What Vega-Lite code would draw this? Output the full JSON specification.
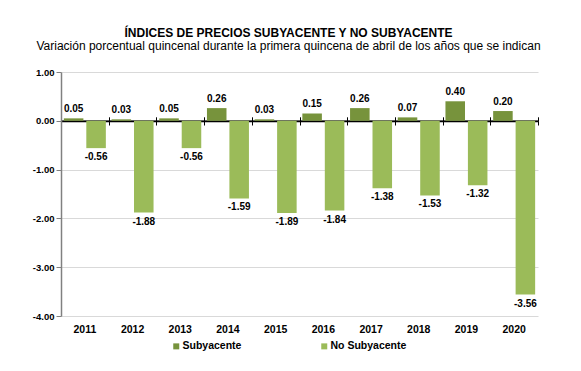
{
  "$schema": "https://vega.github.io/schema/vega-lite/v6.json",
  "autosize": {"type": "none"},
  "width": 477,
  "height": 244,
  "padding": {"left": 61, "top": 72, "right": 43, "bottom": 55},
  "background": "white",
  "title": {
    "text": "ÍNDICES DE PRECIOS SUBYACENTE Y NO SUBYACENTE",
    "subtitle": "Variación porcentual quincenal durante la primera quincena de abril de los años que se indican",
    "anchor": "middle",
    "dx": -11,
    "offset": 14,
    "fontSize": 12,
    "fontWeight": "bold",
    "font": "Liberation Sans",
    "color": "black",
    "subtitleFont": "Liberation Sans",
    "subtitleFontSize": 12,
    "subtitleColor": "black",
    "subtitlePadding": 1
  },
  "config": {
    "font": "Liberation Sans",
    "view": {"stroke": null},
    "locale": {
      "number": {"decimal": ".", "thousands": ",", "grouping": [3], "currency": ["$", ""], "minus": "-"}
    }
  },
  "data": {
    "values": [
      {"year": "2011", "series": "Subyacente", "value": 0.05},
      {"year": "2011", "series": "No Subyacente", "value": -0.56},
      {"year": "2012", "series": "Subyacente", "value": 0.03},
      {"year": "2012", "series": "No Subyacente", "value": -1.88},
      {"year": "2013", "series": "Subyacente", "value": 0.05},
      {"year": "2013", "series": "No Subyacente", "value": -0.56},
      {"year": "2014", "series": "Subyacente", "value": 0.26},
      {"year": "2014", "series": "No Subyacente", "value": -1.59},
      {"year": "2015", "series": "Subyacente", "value": 0.03},
      {"year": "2015", "series": "No Subyacente", "value": -1.89},
      {"year": "2016", "series": "Subyacente", "value": 0.15},
      {"year": "2016", "series": "No Subyacente", "value": -1.84},
      {"year": "2017", "series": "Subyacente", "value": 0.26},
      {"year": "2017", "series": "No Subyacente", "value": -1.38},
      {"year": "2018", "series": "Subyacente", "value": 0.07},
      {"year": "2018", "series": "No Subyacente", "value": -1.53},
      {"year": "2019", "series": "Subyacente", "value": 0.40},
      {"year": "2019", "series": "No Subyacente", "value": -1.32},
      {"year": "2020", "series": "Subyacente", "value": 0.20},
      {"year": "2020", "series": "No Subyacente", "value": -3.56}
    ]
  },
  "resolve": {"axis": {"x": "independent"}},
  "layer": [
    {
      "mark": {"type": "bar"},
      "encoding": {
        "x": {
          "field": "year", "type": "nominal",
          "scale": {"paddingInner": 0, "paddingOuter": 0},
          "axis": {"orient": "bottom", "title": null, "labelAngle": 0, "labelFontWeight": "bold", "labelFontSize": 10.5, "labelColor": "black", "domain": false, "ticks": false, "labelPadding": 8}
        },
        "xOffset": {
          "field": "series", "type": "nominal",
          "sort": ["Subyacente", "No Subyacente"],
          "scale": {"paddingInner": 0.13, "paddingOuter": 0.127}
        },
        "y": {
          "field": "value", "type": "quantitative",
          "scale": {"domain": [-4, 1], "nice": false, "zero": false},
          "axis": {"title": null, "values": [-4, -3, -2, -1, 0, 1], "format": ".2f", "labelFontWeight": "bold", "labelFontSize": 9.5, "labelColor": "black", "domainColor": "#808080", "domainWidth": 1.5, "tickColor": "#808080", "tickSize": 5, "labelPadding": 2, "gridColor": "#d9d9d9"}
        },
        "color": {
          "field": "series", "type": "nominal",
          "scale": {"domain": ["Subyacente", "No Subyacente"], "range": ["#77933C", "#9BBB59"]},
          "legend": {"title": null, "orient": "none", "legendX": 110, "legendY": 269, "direction": "horizontal", "symbolType": "square", "symbolSize": 36, "symbolStrokeWidth": 0, "labelFontSize": 10.5, "labelFontWeight": "bold", "labelColor": "black", "labelOffset": 1, "columnPadding": 77}
        }
      }
    },
    {
      "transform": [{"filter": "datum.value >= 0"}],
      "mark": {"type": "text", "baseline": "bottom", "dy": -4, "fontWeight": "bold", "fontSize": 10, "color": "black"},
      "encoding": {
        "x": {"field": "year", "type": "nominal", "axis": {"orient": "bottom", "offset": -195, "labels": false, "title": null, "domainColor": "black", "domainWidth": 1.5, "tickColor": "black", "tickSize": 4, "tickBand": "extent", "grid": false}},
        "xOffset": {"field": "series", "type": "nominal", "sort": ["Subyacente", "No Subyacente"]},
        "y": {"field": "value", "type": "quantitative"},
        "text": {"field": "value", "type": "quantitative", "format": ".2f"}
      }
    },
    {
      "transform": [{"filter": "datum.value < 0"}],
      "mark": {"type": "text", "baseline": "top", "dy": 4, "fontWeight": "bold", "fontSize": 10, "color": "black"},
      "encoding": {
        "x": {"field": "year", "type": "nominal", "axis": {"orient": "top", "offset": -48.8, "labels": false, "title": null, "domainColor": "black", "domainWidth": 1.5, "tickColor": "black", "tickSize": 4, "tickBand": "extent", "grid": false}},
        "xOffset": {"field": "series", "type": "nominal", "sort": ["Subyacente", "No Subyacente"]},
        "y": {"field": "value", "type": "quantitative"},
        "text": {"field": "value", "type": "quantitative", "format": ".2f"}
      }
    }
  ]
}
